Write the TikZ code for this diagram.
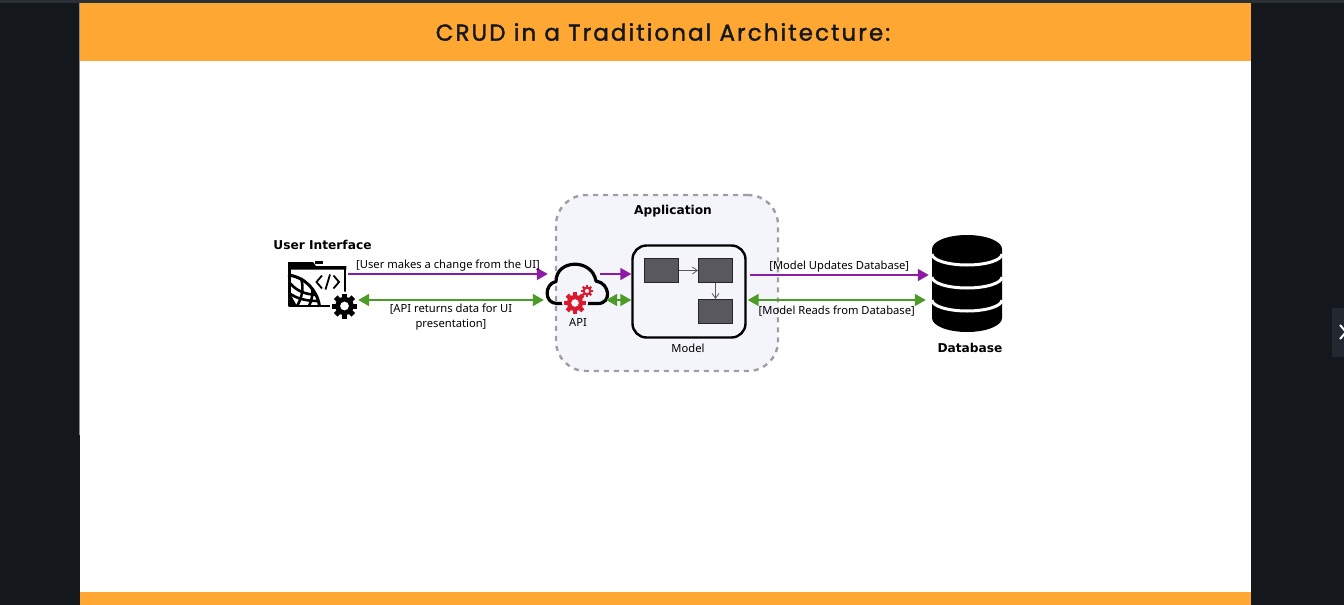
\documentclass[tikz,border=0pt]{standalone}
\usepackage{fontspec}
\setmainfont{Noto Sans}
\newfontfamily\titlefont[LetterSpace=9,FakeBold=1.6]{Poppins}
\newfontfamily\headfont{DejaVu Sans}
\usetikzlibrary{arrows.meta, positioning}
\definecolor{pageDark}{HTML}{14181D}
\definecolor{pageStrip}{HTML}{2B3036}
\definecolor{tabDark}{HTML}{232830}
\definecolor{bandOrange}{HTML}{FFA733}
\definecolor{titleInk}{HTML}{14181D}
\definecolor{appFill}{HTML}{F4F4FB}
\definecolor{appDash}{HTML}{A09DA8}
\definecolor{flowPurple}{HTML}{8E1BA4}
\definecolor{flowGreen}{HTML}{4D9B27}
\definecolor{gearRed}{HTML}{DC1A2E}
\definecolor{partGray}{HTML}{58585E}
\tikzset{
  arrowP/.style={-{Triangle[length=11pt,width=12pt]}, flowPurple, line width=1.8pt},
  arrowG/.style={{Triangle[length=11pt,width=12pt]}-{Triangle[length=11pt,width=12pt]}, flowGreen, line width=1.8pt},
  arrowI/.style={-{Straight Barb[length=5pt,width=7pt]}, color=black!65, line width=0.8pt},
  flowLabel/.style={text=black, font=\fontsize{11.2}{15}\selectfont, align=center, inner sep=2pt},
  flowLabelLow/.style={flowLabel, inner ysep=3.5pt},
  iconBox/.style={rectangle, inner sep=0pt},
  boxPart/.style={rectangle, draw=black!85, fill=partGray, line width=1pt,
                  minimum width=34pt, minimum height=24pt, inner sep=0pt},
  headLabel/.style={font=\headfont\bfseries\fontsize{12.2}{15}\selectfont, inner sep=0pt},
  smallLabel/.style={font=\fontsize{11.2}{13.5}\selectfont, inner sep=0pt},
  gearIcon/.pic={
    \path[pic actions, even odd rule] (0,0) circle (0.74) circle (0.36);
    \foreach \a in {0,45,...,315}
      \path[pic actions, rotate=\a] (-0.2,0.6) rectangle (0.2,1);
  },
}
\begin{document}
\begin{tikzpicture}[x=1pt, y=-1pt]
  \useasboundingbox (0,0) rectangle (1344,605);
  % page and slide
  \fill[pageDark] (0,0) rectangle (1344,605);
  \fill[pageStrip] (0,0) rectangle (1344,3);
  \fill[white] (80,3) rectangle (1251,605);
  \fill[black!45] (79,3) rectangle (80,435);
  \fill[bandOrange] (80,3) rectangle (1251,61);
  \fill[bandOrange] (80,592) rectangle (1251,605);
  \fill[tabDark] (1332,308) rectangle (1344,357);
  \draw[white, line width=2pt] (1340,325) -- (1346,332) -- (1340,339);
  \node[text=titleInk, inner sep=0pt, font=\titlefont\fontsize{23}{27}\selectfont] (titleText) at (663,32)
    {CRUD in a Traditional Architecture:};

  % application frame
  \node[rectangle, draw=appDash, fill=appFill, line width=2.4pt, dash pattern=on 5pt off 5pt,
        rounded corners=30pt, minimum width=222pt, minimum height=176pt] (appBox) at (667,283) {};
  \node[headLabel, anchor=base] (appLabel) at (673,214.5) {Application};

  % model with its parts
  \node[rectangle, draw=black, fill=appFill, line width=2.4pt, rounded corners=14pt,
        minimum width=113pt, minimum height=92pt] (modelBox) at (689,291.5) {};
  \node[boxPart] (partA) at (661.5,270.5) {};
  \node[boxPart, right=19pt of partA] (partB) {};
  \node[boxPart, below=16pt of partB] (partC) {};
  \draw[arrowI] (partA)--(partB);
  \draw[arrowI] (partB)--(partC);
  \node[smallLabel, below=5pt of modelBox, xshift=-1pt] (modelLabel) {Model};

  % user interface icon
  \node[iconBox, minimum width=69pt, minimum height=58pt] (uiIcon) at (322.5,290) {};
  \draw[black, line width=3pt] (288,275) .. controls (305,277) and (317,290) .. (319.5,306);
  \draw[black, line width=2.6pt] (301,278) .. controls (304,288) and (302,298) .. (297,306);
  \draw[black, line width=2.6pt] (312,288) .. controls (313,294) and (312,300) .. (309,306);
  \draw[black, line width=2.6pt] (289,282) .. controls (297,292) and (306,294) .. (316,295);
  \draw[black, line width=2.6pt] (289,293) .. controls (297,299) and (307,301) .. (318,301);
  \fill[black] (288,290) -- (297,306) -- (288,306) -- cycle;
  \draw[black, line width=2.8pt, line join=round] (345,296) -- (345,268) (289.4,268) -- (289.4,306) -- (330,306);
  \fill[black] (288,262) -- (313,262) -- (316,266) -- (346.4,266) -- (346.4,269.5) -- (288,269.5) -- cycle;
  \fill[black] (315,260.5) rectangle (323,264);
  \draw[black, line width=1.8pt] (322,275.5) -- (316.5,282) -- (322,288.5);
  \draw[black, line width=1.8pt] (330,274.5) -- (325.5,289.5);
  \draw[black, line width=1.8pt] (333.5,275.5) -- (339,282) -- (333.5,288.5);
  \fill[white] (344.5,306) circle (14.5pt);
  \pic[fill=black, scale=12.5] (uiGear) at (344.5,306) {gearIcon};
  \node[headLabel, above=11pt of uiIcon] (uiLabel) {User Interface};

  % api cloud icon
  \node[iconBox, minimum width=62pt, minimum height=42pt] (apiIcon) at (577,284) {};
  \draw[black, line width=3.2pt, line cap=round, line join=round]
    (598,303.5) -- (557,303.5)
    .. controls (544,303.5) and (544,284) .. (556,281.5)
    .. controls (556,259) and (592,258) .. (596,281)
    .. controls (610,283) and (612,303.5) .. (598,303.5);
  \fill[appFill] (575,303) circle (13pt);
  \fill[appFill] (587,291) circle (7.5pt);
  \pic[fill=gearRed, scale=11] (apiGearA) at (575,303) {gearIcon};
  \pic[fill=gearRed, scale=6] (apiGearB) at (587,291) {gearIcon};
  \node[smallLabel, below=13.5pt of apiIcon, xshift=1pt] (apiLabel) {API};

  % database icon
  \node[iconBox, minimum width=70pt, minimum height=97pt] (dbIcon) at (967,283.5) {};
  \fill[black] (932,249) arc[start angle=180, end angle=0, x radius=35pt, y radius=14pt]
    -- (1002,318) arc[start angle=0, end angle=-180, x radius=35pt, y radius=14pt] -- cycle;
  \foreach \s in {254,277,300}
    \draw[white, line width=3pt] (932,\s) arc[start angle=180, end angle=360, x radius=35pt, y radius=11pt];
  \node[headLabel, below=11pt of dbIcon, xshift=3pt] (dbLabel) {Database};

  % flows
  \draw[arrowP] ([xshift=-9pt,yshift=16pt]uiIcon.east)--([xshift=2pt,yshift=10pt]apiIcon.west)
    node[flowLabel, midway, above] {[User makes a change from the UI]};
  \draw[arrowG] ([xshift=1pt,yshift=-10pt]uiIcon.east)--([xshift=-2pt,yshift=-16pt]apiIcon.west)
    node[flowLabelLow, midway, below] {[API returns data for UI\\presentation]};
  \draw[arrowP] ([xshift=-8pt,yshift=10pt]apiIcon.east)--([yshift=17.5pt]modelBox.west);
  \draw[arrowG] ([xshift=-2pt,yshift=-16pt]apiIcon.east)--([yshift=-8.5pt]modelBox.west);
  \draw[arrowP] ([xshift=3pt,yshift=16.5pt]modelBox.east)--([xshift=-3pt,yshift=8.5pt]dbIcon.west)
    node[flowLabel, midway, above] {[Model Updates Database]};
  \draw[arrowG] ([xshift=1pt,yshift=-8.5pt]modelBox.east)--([xshift=-6pt,yshift=-16.5pt]dbIcon.west)
    node[flowLabelLow, midway, below, yshift=-1.5pt] {[Model Reads from Database]};
\end{tikzpicture}
\end{document}
